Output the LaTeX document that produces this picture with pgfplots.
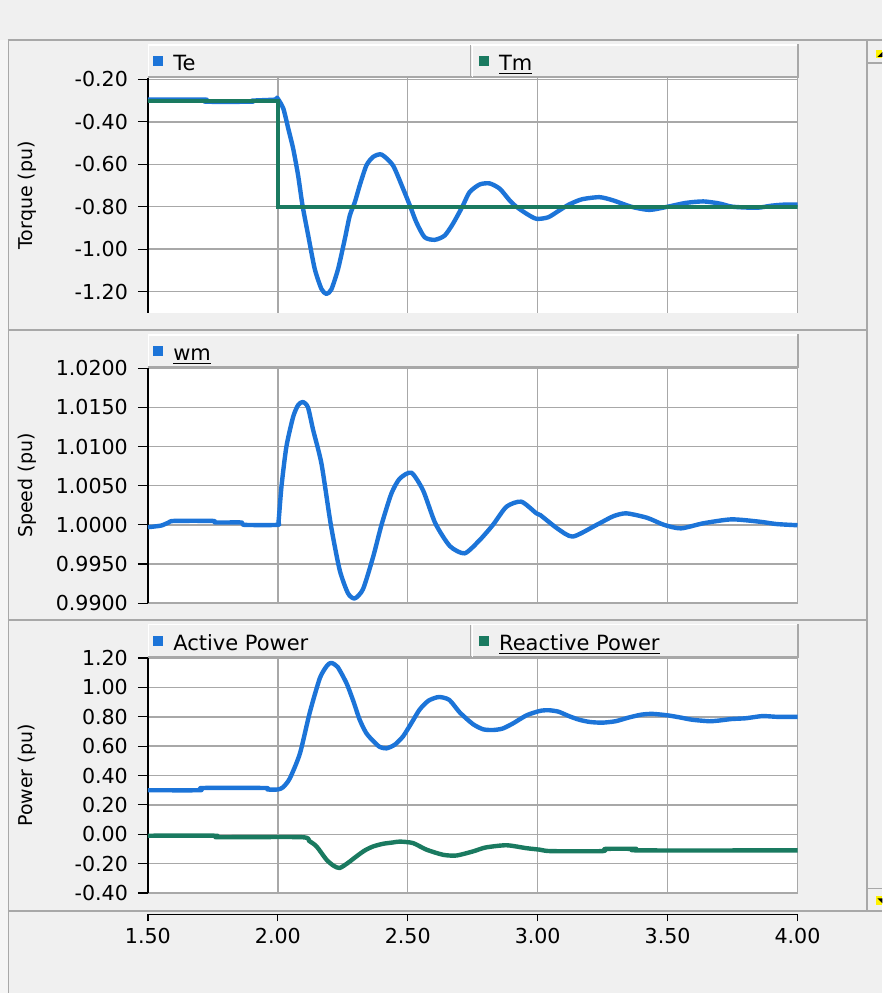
\documentclass[border=0pt]{standalone}
\usepackage{fontspec}
\setmainfont{DejaVu Sans}
\usepackage{pgfplots}
\usepackage{pgfplotstable}
\pgfplotsset{compat=1.18}

\definecolor{bg}{HTML}{F0F0F0}
\definecolor{edge}{HTML}{A8A8A8}
\definecolor{gridc}{HTML}{A8A8A8}
\definecolor{cblue}{RGB}{28,116,216}
\definecolor{cgreen}{RGB}{26,122,96}

% Te (torque, electrical)
\pgfplotstableread{
t v
1.50 -0.295
1.72 -0.295
1.721 -0.305
1.90 -0.305
1.901 -0.300
1.99 -0.295
1.997 -0.286
2.021 -0.337
2.040 -0.431
2.059 -0.526
2.078 -0.652
2.095 -0.794
2.117 -0.936
2.142 -1.093
2.168 -1.188
2.187 -1.211
2.206 -1.19
2.232 -1.093
2.258 -0.951
2.277 -0.841
2.296 -0.78
2.315 -0.70
2.341 -0.605
2.367 -0.565
2.399 -0.554
2.443 -0.605
2.482 -0.715
2.51 -0.80
2.533 -0.873
2.565 -0.944
2.604 -0.956
2.642 -0.936
2.674 -0.88
2.71 -0.80
2.738 -0.731
2.777 -0.695
2.815 -0.69
2.854 -0.715
2.892 -0.77
2.918 -0.80
2.957 -0.833
2.995 -0.857
3.04 -0.85
3.08 -0.82
3.12 -0.79
3.17 -0.765
3.238 -0.755
3.29 -0.77
3.36 -0.80
3.43 -0.815
3.50 -0.80
3.57 -0.782
3.638 -0.775
3.70 -0.785
3.75 -0.80
3.843 -0.805
3.90 -0.795
3.95 -0.79
4.00 -0.79
}\te

% Tm (torque, mechanical)
\pgfplotstableread{
t v
1.50 -0.30
2.00 -0.30
2.00 -0.80
4.00 -0.80
}\tm

% wm (speed)
\pgfplotstableread{
t v
1.50 0.9997
1.55 0.9999
1.58 1.0003
1.60 1.0005
1.75 1.0005
1.76 1.0003
1.86 1.0003
1.87 1.0000
1.998 1.0000
2.003 1.0005
2.014 1.0049
2.033 1.0100
2.059 1.0138
2.078 1.0153
2.097 1.0157
2.116 1.0150
2.136 1.0121
2.168 1.0078
2.204 1.0000
2.238 0.99423
2.27 0.99126
2.296 0.9906
2.328 0.9918
2.367 0.99594
2.399 1.0000
2.437 1.0040
2.469 1.0059
2.514 1.00666
2.559 1.0044
2.606 1.0002
2.662 0.99729
2.719 0.99636
2.777 0.99806
2.828 1.0000
2.88 1.00232
2.937 1.00296
2.995 1.00147
3.01 1.00125
3.075 0.99955
3.135 0.9985
3.227 1.0000
3.291 1.0011
3.341 1.00147
3.421 1.0009
3.486 1.0000
3.551 0.99955
3.638 1.0002
3.746 1.0007
3.854 1.0004
3.92 1.0001
4.00 0.99995
}\wm

% Active power
\pgfplotstableread{
t v
1.50 0.30
1.70 0.30
1.71 0.315
1.95 0.315
1.96 0.305
2.00 0.305
2.02 0.32
2.046 0.38
2.085 0.55
2.123 0.83
2.162 1.065
2.19 1.15
2.206 1.167
2.23 1.14
2.264 1.03
2.29 0.91
2.315 0.78
2.34 0.69
2.367 0.635
2.392 0.595
2.418 0.585
2.45 0.61
2.482 0.667
2.515 0.76
2.546 0.85
2.58 0.91
2.62 0.935
2.66 0.915
2.70 0.83
2.751 0.75
2.79 0.715
2.828 0.71
2.865 0.72
2.905 0.755
2.957 0.81
3.008 0.84
3.042 0.845
3.08 0.835
3.12 0.805
3.16 0.78
3.20 0.765
3.248 0.76
3.30 0.77
3.35 0.795
3.40 0.815
3.442 0.82
3.50 0.81
3.55 0.795
3.595 0.78
3.66 0.77
3.70 0.775
3.746 0.785
3.80 0.79
3.865 0.805
3.92 0.80
4.00 0.80
}\pact

% Reactive power
\pgfplotstableread{
t v
1.50 -0.01
1.76 -0.01
1.77 -0.02
2.091 -0.02
2.12 -0.045
2.149 -0.083
2.187 -0.173
2.215 -0.215
2.238 -0.23
2.27 -0.195
2.303 -0.15
2.335 -0.11
2.367 -0.083
2.405 -0.065
2.443 -0.056
2.47 -0.05
2.52 -0.06
2.572 -0.105
2.636 -0.14
2.687 -0.145
2.751 -0.117
2.80 -0.09
2.88 -0.075
2.957 -0.095
3.008 -0.105
3.05 -0.115
3.25 -0.115
3.26 -0.10
3.38 -0.10
3.39 -0.11
4.00 -0.11
}\preact

\newcommand{\tickfont}{\fontsize{10.3}{12}\selectfont}
\newcommand{\labfont}{\fontsize{9.5}{11}\selectfont}
\newcommand{\legfont}{\fontsize{10.5}{12}\selectfont}

\pgfplotsset{
  panel/.style={
    scale only axis, width=325pt, height=117.5pt,
    anchor=south west,
    xmin=1.5, xmax=4,
    xtick={1.5,2,2.5,3,3.5,4},
    grid=major,
    major grid style={draw=gridc, line width=0.7pt},
    axis y line*=left, axis x line*=bottom,
    x axis line style={draw=none},
    xticklabels={}, xtick style={draw=none},
    y axis line style={black, line width=0.6pt},
    ytick style={black, line width=0.6pt},
    tick align=outside, major tick length=5pt,
    axis background/.style={fill=white},
    yticklabel style={font=\tickfont, xshift=-1.5pt,
      /pgf/number format/fixed,
      /pgf/number format/fixed zerofill, /pgf/number format/precision=2,
      /pgf/number format/assume math mode=true},
    every axis y label/.style={at={(axis description cs:-0.185,0.5)},
      rotate=90, anchor=center, font=\labfont},
  },
  curve/.style={line width=2.2pt, line join=round, smooth, tension=0.4},
}

\begin{document}
\begin{tikzpicture}
% window frame, in pixel units of the reference
\begin{scope}[x=0.5pt, y=-0.5pt, yshift=497pt]
  \fill[bg] (0,0) rectangle (883,994);
  \fill[white!96!black] (0,40) rectangle (8,994);
  \draw[edge, line width=1pt] (8,40) -- (883,40);
  \draw[edge, line width=0.6pt] (8.5,40) -- (8.5,994);
  \draw[edge, line width=1pt] (8,330) -- (868,330);
  \draw[edge, line width=1pt] (8,620) -- (868,620);
  \draw[edge, line width=1pt] (8,912) -- (883,912);
  \draw[edge, line width=1pt] (868,40) -- (868,912);
  % scroll buttons
  \draw[edge, line width=0.6pt] (868,63) -- (883,63);
  \fill[yellow] (877,50) rectangle (883,58);
  \fill[black] (878,57) -- (883,52) -- (883,57) -- cycle;
  \draw[edge, line width=0.6pt] (868,889) -- (883,889);
  \fill[yellow] (877,897) rectangle (883,906);
  \fill[black] (878,899) -- (883,899) -- (883,904) -- cycle;
\end{scope}

% torque
\begin{axis}[panel, at={(74pt,340.5pt)},
  ymin=-1.30, ymax=-0.193,
  ytick={-1.2,-1,-0.8,-0.6,-0.4,-0.2},
  ylabel={Torque (pu)}]
\addplot[curve, cblue] table {\te};
\addplot[cgreen, line width=2pt] table {\tm};
\end{axis}

% speed
\begin{axis}[panel, at={(74pt,195.25pt)},
  ymin=0.9900, ymax=1.0200,
  ytick={0.99,0.995,1,1.005,1.01,1.015,1.02},
  yticklabel style={/pgf/number format/precision=4},
  ylabel={Speed (pu)}]
\addplot[curve, cblue] table {\wm};
\end{axis}

% power
\begin{axis}[panel, at={(74pt,50.25pt)},
  ymin=-0.40, ymax=1.20,
  ytick={-0.4,-0.2,0,0.2,0.4,0.6,0.8,1,1.2},
  ylabel={Power (pu)}]
\addplot[curve, cblue] table {\pact};
\addplot[curve, cgreen] table {\preact};
\end{axis}

% shared time axis
\begin{axis}[scale only axis, width=325pt, height=1pt,
  at={(74pt,39.5pt)}, anchor=south west,
  xmin=1.5, xmax=4, ymin=0, ymax=1,
  axis x line*=bottom, hide y axis,
  xtick={1.5,2,2.5,3,3.5,4},
  x axis line style={black, line width=0.6pt},
  xtick style={black, line width=0.6pt},
  tick align=outside, major tick length=3.5pt,
  xticklabel style={font=\tickfont, /pgf/number format/fixed,
    /pgf/number format/fixed zerofill, /pgf/number format/precision=2,
    /pgf/number format/assume math mode=true}]
\addplot[draw=none] coordinates {(1.5,0) (4,0)};
\end{axis}

% legend bars
\begin{scope}[x=0.5pt, y=-0.5pt, yshift=497pt]
  \foreach \top in {44,334,624} {
    \fill[bg] (148,\top) rectangle (799,\top+33);
    \draw[white, line width=0.8pt] (148.5,\top+33) -- (148.5,\top+1) -- (797,\top+1);
    \draw[edge, line width=1pt] (148,\top+33) -- (798,\top+33) -- (798,\top);
  }
  \foreach \top in {44,624} {
    \draw[edge, line width=0.6pt] (471,\top+1) -- (471,\top+33);
    \draw[white, line width=0.6pt] (472.5,\top+1) -- (472.5,\top+33);
  }
  % panel 1
  \fill[cblue] (153,56) rectangle (163,66);
  \node[anchor=base west, font=\legfont, inner sep=0pt] at (173,71) {Te};
  \fill[cgreen] (479,56) rectangle (489,66);
  \node[anchor=base west, font=\legfont, inner sep=0pt] at (499,71) {\underline{Tm}};
  % panel 2
  \fill[cblue] (153,346) rectangle (163,356);
  \node[anchor=base west, font=\legfont, inner sep=0pt] at (173,361) {\underline{wm}};
  % panel 3
  \fill[cblue] (153,636) rectangle (163,646);
  \node[anchor=base west, font=\legfont, inner sep=0pt] at (173,651) {Active Power};
  \fill[cgreen] (479,636) rectangle (489,646);
  \node[anchor=base west, font=\legfont, inner sep=0pt] at (499,651) {\underline{Reactive Power}};
\end{scope}
\end{tikzpicture}
\end{document}
